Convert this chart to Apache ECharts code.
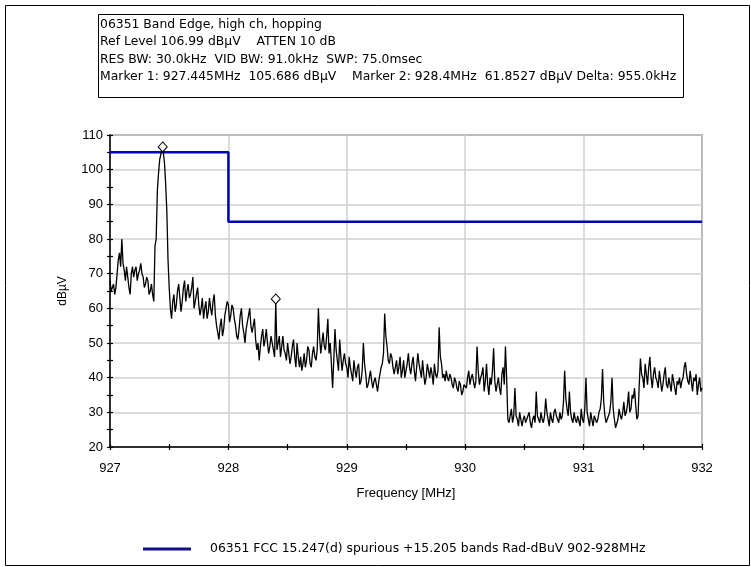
<!DOCTYPE html>
<html><head><meta charset="utf-8">
<script src="https://cdn.jsdelivr.net/npm/echarts@6/dist/echarts.min.js"></script>
<style>html,body{margin:0;padding:0;background:#fff}#c{width:751px;height:567px}</style>
</head><body><div id="c"></div>
<script>
// ---- data ----
const traceStartMHz = 927;
const traceStepMHz = 0.01;
const traceValues = [
  68,65,66,67,64,66,70,74,76,72,80,73,71,68,72,69,66,64,70,72,69,71,72,68,70,71,73,70,69,66,67,69,68,64,65,67,64,62,78,80,94,99,103,104.5,105.7,105,102,96,88,74,
  66,60,57,62,64,59,61,65,67,63,59,62,66,68,62,65,67,63,64,66,69,60,62,64,66,61,58,60,63,57,
  60,62,57,59,63,60,58,62,64,58,55,53,51,55,57,52,54,58,60,62,61,56,58,61,60,57,55,52,51,54,58,60,55,53,50,54,56,58,60,55,
  53,55,57,51,48,50,45,49,52,54,49,51,54,50,47,49,52,50,48,46,61.85,48,50,52,46,49,52,48,47,45,50,47,44,46,49,51,46,43,50,46,
  43,46,42,44,47,43,45,49,48,44,43,47,49,46,45,48,60,52,47,50,53,49,48,52,57,47,50,44,37,45,54,48,45,42,51,46,42,45,47,44,
  43,40,46,43,41,39,45,42,40,43,44,38,39,42,50,44,41,37,38,40,42,39,37,39,40,38,36,39,41,43,44,47,58.5,52,49,45,44,47,46,43,
  41,43,45,41,43,46,40,42,45,40,42,44,47,43,41,44,46,42,39,43,47,44,42,40,45,41,38,40,44,42,40,43,41,38,44,41,40,42,54.5,46,
  44,40,41,39,42,40,39,41,40,38,37,40,39,37,36,39,38,35,36,38,38,37,40,42,38,40,41,39,37,39,49,42,38,40,41,43,36,39,44,38,
  35,40,38,42,48.5,39,36,38,40,37,35,41,43,38,49,40,28,27,29,31,27,29,37,29,28,26,30,28,26,28,29,27,27,29,30,27,25.5,28,29,27,
  36,29,28,27,30,28,27,29,34,30,28,26,30,28,27,30,31,29,28,27,30,28,29,33,42,34,31,29,36,30,28,27,30,28,27,29,29,26,31,28,
  27,31,40,30,28,26,30,28,26,29,29,27,28,30,31,34,42.5,33,29,27,27,29,30,33,40,31,28,25.5,26,28,31,29,28,30,33,29,30,32,36,30,
  31,35,34,37,32,28,29,38,45.5,41,40,37,44,41,38,43,46,40,37,41,43,40,39,37,42,39,36,38,41,43,38,37,40,38,36,41,39,37,35,39,
  38,40,37,39,40,43,44.5,41,39,38,42,39,36,40,39,41,35,38,40,36,37
];
const limitFreqs = [927, 928, 928, 932];
const limitValues = [105, 105, 85, 85];
const markerFreqs = [927.445, 928.4];
const markerValues = [105.686, 61.8527];
const limitName = '06351 FCC 15.247(d) spurious +15.205 bands Rad-dBuV 902-928MHz';
const headerLines = [
  '06351 Band Edge, high ch, hopping',
  'Ref Level 106.99 dB\u00b5V    ATTEN 10 dB',
  'RES BW: 30.0kHz  VID BW: 91.0kHz  SWP: 75.0msec',
  'Marker 1: 927.445MHz  105.686 dB\u00b5V    Marker 2: 928.4MHz  61.8527 dB\u00b5V Delta: 955.0kHz'
];
const xMin = 927, xMax = 932, xStep = 1;
const yMin = 20, yMax = 110, yStep = 10;

// ---- build ----
const traceData = traceValues.map((v, i) => [+(traceStartMHz + i * traceStepMHz).toFixed(3), v]);
const limitData = limitFreqs.map((f, i) => [f, limitValues[i]]);
const FONT = 'Liberation Sans, Arial, sans-serif';
const WFONT = 'DejaVu Sans, sans-serif';
const tickStyle = {color: '#000', width: 1.2};

function mkX(primary) {
  return {
    type: 'value', min: xMin, max: xMax, interval: xStep, position: 'bottom',
    name: primary ? 'Frequency [MHz]' : '', nameLocation: 'middle', nameGap: 40,
    nameTextStyle: {color: '#000', fontSize: 13, fontFamily: FONT},
    axisLine: {show: primary, onZero: false, lineStyle: {color: '#000', width: 1.5}},
    axisTick: {show: true, inside: !primary, length: 3, lineStyle: tickStyle},
    minorTick: {show: true, splitNumber: 2, length: 3, lineStyle: tickStyle},
    axisLabel: {show: primary, color: '#000', fontSize: 13, fontFamily: FONT, margin: 15},
    splitLine: {show: primary, lineStyle: {color: '#d0d0d0', width: 1.5}},
    minorSplitLine: {show: false}
  };
}
function mkY(primary) {
  return {
    type: 'value', min: yMin, max: yMax, interval: yStep, position: 'left',
    name: primary ? 'dB\u00b5V' : '', nameLocation: 'middle', nameGap: 41, nameRotate: 90,
    nameTextStyle: {color: '#000', fontSize: 12, fontFamily: FONT},
    axisLine: {show: primary, onZero: false, lineStyle: {color: '#000', width: 1.5}},
    axisTick: {show: true, inside: !primary, length: 3, lineStyle: tickStyle},
    minorTick: {show: true, splitNumber: 2, length: 3, lineStyle: tickStyle},
    axisLabel: {show: primary, color: '#000', fontSize: 13, fontFamily: FONT, margin: 7},
    splitLine: {show: primary, lineStyle: {color: '#d0d0d0', width: 1.5}},
    minorSplitLine: {show: false}
  };
}

const chart = echarts.init(document.getElementById('c'), null, {renderer: 'canvas'});
chart.setOption({
  animation: false,
  backgroundColor: '#fff',
  grid: {left: 110, top: 135, right: 49, bottom: 120, show: true, borderColor: '#555', borderWidth: 1.5, backgroundColor: 'transparent'},
  xAxis: [mkX(true), mkX(false)],
  yAxis: [mkY(true), mkY(false)],
  legend: {
    show: true, left: 143, top: 543, padding: 0, data: [limitName],
    icon: 'rect', itemWidth: 48, itemHeight: 3, itemGap: 10,
    textStyle: {color: '#000', fontSize: 12.4, fontFamily: WFONT, padding: [0, 0, 0, 14]}
  },
  series: [
    {
      name: limitName, type: 'line', data: limitData, xAxisIndex: 0, yAxisIndex: 0,
      symbol: 'none', lineStyle: {color: '#0000c0', width: 2.5}, itemStyle: {color: '#10108a'}, z: 3
    },
    {
      name: 'trace', type: 'line', data: traceData, xAxisIndex: 0, yAxisIndex: 0,
      symbol: 'none', lineStyle: {color: '#000', width: 1.3}, z: 4,
      markPoint: {
        symbol: 'diamond', symbolSize: [9, 10], symbolOffset: [0, -3],
        itemStyle: {color: '#fff', borderColor: '#000', borderWidth: 1},
        label: {show: false},
        data: markerFreqs.map((f, i) => ({coord: [f, markerValues[i]]}))
      }
    }
  ],
  graphic: [
    {type: 'rect', left: 3, top: 3, shape: {width: 744, height: 560}, style: {fill: 'none', stroke: '#000', lineWidth: 1}, silent: true},
    {type: 'rect', left: 98, top: 14, shape: {width: 585, height: 83}, style: {fill: '#fff', stroke: '#000', lineWidth: 1}, silent: true},
    {type: 'text', left: 100, top: 16, style: {text: headerLines.join('\n'), font: '12.4px ' + WFONT, fill: '#000', lineHeight: 17.5}, silent: true}
  ]
});
</script>
</body></html>
